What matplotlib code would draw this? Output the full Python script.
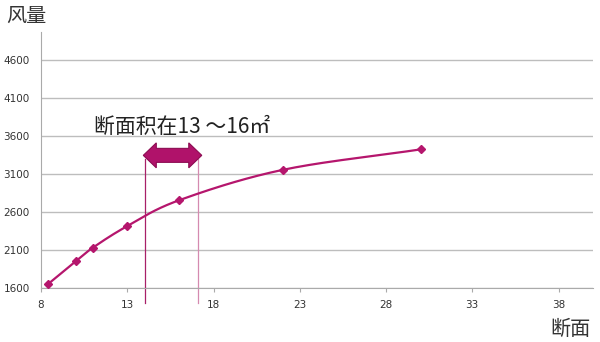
import numpy as np
import matplotlib
matplotlib.use("Agg")
import matplotlib.pyplot as plt
from matplotlib.patches import Polygon

plt.rcParams['font.family'] = ['Noto Sans CJK SC', 'DejaVu Sans']

# data
section = [8.4, 10.0, 11.0, 13.0, 16.0, 22.0, 30.0]
airflow = [1650, 1950, 2130, 2415, 2755, 3155, 3425]
x_ticks = [8, 13, 18, 23, 28, 33, 38]
y_ticks = [1600, 2100, 2600, 3100, 3600, 4100, 4600]
range_lo, range_hi = 14.0, 17.1
x_label = "断面"
y_label = "风量"
note = "断面积在13 ～16㎡"

XMIN, XMAX = 8, 40
YMIN, YMAX = 1600, 4975

fig = plt.figure(figsize=(6, 3.42), dpi=100)
ax = fig.add_axes([41/600, 1-288/342, (593-41)/600, (288-31.7)/342])
ax.set_xlim(XMIN, XMAX)
ax.set_ylim(YMIN, YMAX)

# grid
ax.set_yticks(y_ticks)
ax.set_xticks(x_ticks)
ax.grid(axis='y', color='#BDBDBD', linewidth=1.0)
ax.set_axisbelow(True)
for s in ['top', 'right']:
    ax.spines[s].set_visible(False)
ax.spines['left'].set_color('#AAAAAA')
ax.spines['bottom'].set_color('#AAAAAA')
ax.tick_params(axis='y', length=0, pad=8, labelsize=7.5, colors='#333333')
ax.tick_params(axis='x', length=3, width=0.8, color='#AAAAAA', pad=6,
               labelsize=7.5, labelcolor='#333333')
for lab in ax.get_xticklabels() + ax.get_yticklabels():
    lab.set_family(['DejaVu Sans'])

# smooth curve (Catmull-Rom in screen-normalised space)
px = np.array(section); py = np.array(airflow, dtype=float)
sx = (XMAX - XMIN) / 552.0; sy = (YMAX - YMIN) / 256.6
P = np.column_stack([px / sx, py / sy])
P_ext = np.vstack([2*P[0]-P[1], P, 2*P[-1]-P[-2]])
curve = []
for i in range(1, len(P_ext)-2):
    p0, p1, p2, p3 = P_ext[i-1], P_ext[i], P_ext[i+1], P_ext[i+2]
    t = np.linspace(0, 1, 30)[:, None]
    c = 0.5*((2*p1) + (-p0+p2)*t + (2*p0-5*p1+4*p2-p3)*t**2 + (-p0+3*p1-3*p2+p3)*t**3)
    curve.append(c)
curve = np.vstack(curve)
line_color = '#B5166D'
ax.plot(curve[:, 0]*sx, curve[:, 1]*sy, color=line_color, linewidth=1.6, zorder=3)
ax.plot(section, airflow, linestyle='none', marker='D', markersize=4.5,
        color=line_color, zorder=4)

# vertical range lines
ax.plot([range_lo, range_lo], [1405, 3300], color='#A82068', linewidth=0.9, clip_on=False, zorder=2)
ax.plot([range_hi, range_hi], [1405, 3300], color='#D58AB0', linewidth=0.9, clip_on=False, zorder=2)

# double-headed arrow
ux = (XMAX - XMIN) / 552.0   # data per px in x
uy = (YMAX - YMIN) / 256.6   # data per px in y
xl, xr = 13.93, 17.32
yc = 1600 + (288.3 - 155.5) * uy
hh = 12.5 * uy   # half head height
bh = 7.0 * uy    # half body height
hl = 13 * ux     # head length
verts = [
    (xl, yc), (xl+hl, yc+hh), (xl+hl, yc+bh), (xr-hl, yc+bh), (xr-hl, yc+hh),
    (xr, yc), (xr-hl, yc-hh), (xr-hl, yc-bh), (xl+hl, yc-bh), (xl+hl, yc-hh)
]
ax.add_patch(Polygon(verts, closed=True, facecolor='#B0126A', edgecolor='#8C0C52',
                     linewidth=0.8, clip_on=False, zorder=5))

# texts
fig.text(94/600, 1-127/342, note, fontsize=15, color='#222222', va='center', ha='left',
         fontweight='light')
fig.text(6/600, 1-16/342, y_label, fontsize=14.5, color='#333333', va='center', ha='left',
         fontweight='light')
fig.text(591/600, 1-329/342, x_label, fontsize=14.5, color='#333333', va='center', ha='right',
         fontweight='light')

fig.savefig('out.png', dpi=100)
